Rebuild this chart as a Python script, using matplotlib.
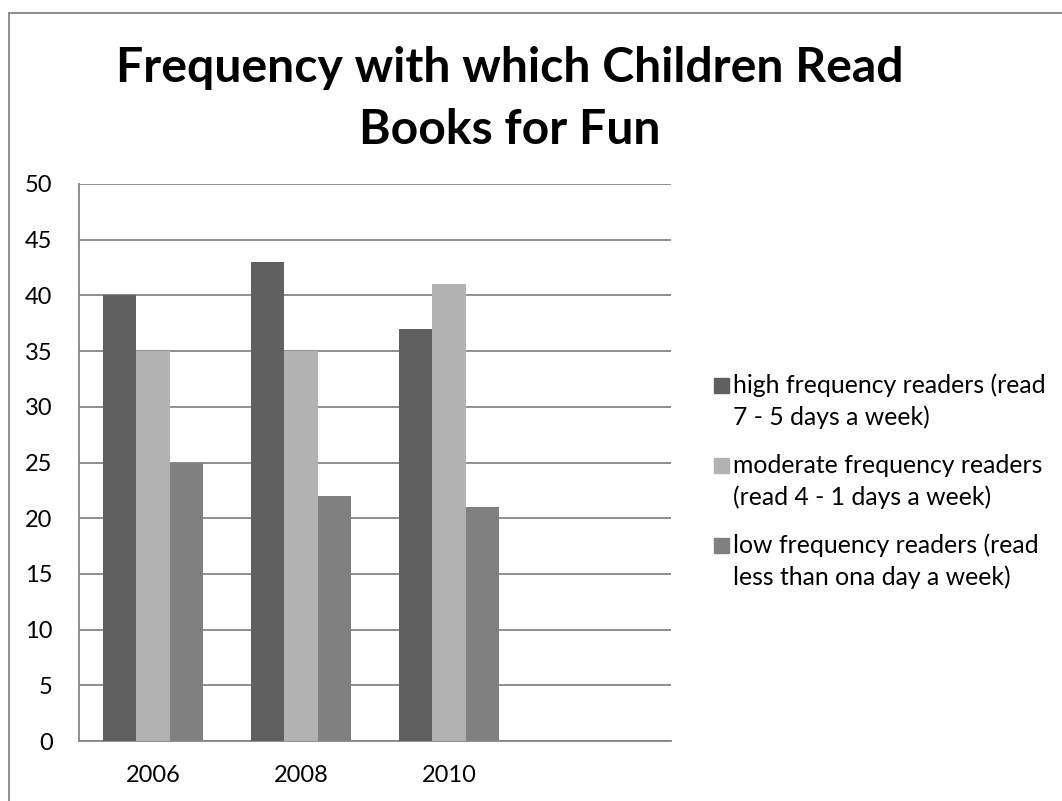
import numpy as np
import matplotlib.pyplot as plt
from matplotlib.lines import Line2D
from matplotlib.patches import Rectangle

plt.rcParams['font.family'] = ['Lato', 'DejaVu Sans']

years = ['2006', '2008', '2010', '']
high = [40, 43, 37, np.nan]
moderate = [35, 35, 41, np.nan]
low = [25, 22, 21, np.nan]
labels = ['high frequency readers (read\n7 - 5 days a week)',
          'moderate frequency readers\n(read 4 - 1 days a week)',
          'low frequency readers (read\nless than ona day a week)']
colors = ['#606060', '#b2b2b2', '#808080']

W, H = 1062, 801
fig = plt.figure(figsize=(W / 100, H / 100), dpi=100)
ax = fig.add_axes([79 / W, 1 - 741 / H, 592 / W, 557 / H])

x = np.arange(len(years))
w = 0.223
for i, (vals, c) in enumerate(zip([high, moderate, low], colors)):
    ax.bar(x + (i - 1) * w, vals, w, color=c, zorder=3)

ax.set_xlim(-0.5, len(years) - 0.5)
ax.set_ylim(0, 50)
ax.set_yticks(range(0, 51, 5))
ax.set_xticks(x)
ax.set_xticklabels(years)
ax.yaxis.grid(True, color='#868686', linewidth=1.3, zorder=0)
ax.tick_params(length=0, labelsize=17)
ax.tick_params(axis='x', pad=17)
ax.tick_params(axis='y', pad=19)
for s in ['top', 'right']:
    ax.spines[s].set_visible(False)
for s in ['left', 'bottom']:
    ax.spines[s].set_color('#868686')
    ax.spines[s].set_linewidth(1.3)

fig.text(0.48, 1 - 99 / H, 'Frequency with which Children Read\nBooks for Fun',
         ha='center', va='center', fontsize=34.7, fontweight='bold',
         linespacing=1.5)

# legend: square sits on the first line of each two-line entry
for i, (lab, c) in enumerate(zip(labels, colors)):
    base = 393 + 80 * i
    fig.add_artist(Rectangle((714 / W, 1 - base / H), 15 / W, 15 / H,
                             transform=fig.transFigure, color=c))
    for j, line in enumerate(lab.split('\n')):
        fig.text(733 / W, 1 - (base + 32 * j) / H, line, fontsize=17.8,
                 ha='left', va='baseline')

# chart border
fig.add_artist(Line2D([9 / W, 9 / W], [0, 1 - 13 / H], color='#868686', lw=1.3))
fig.add_artist(Line2D([9 / W, 1], [1 - 13 / H, 1 - 13 / H], color='#868686', lw=1.3))

fig.savefig('out.png', dpi=100)
